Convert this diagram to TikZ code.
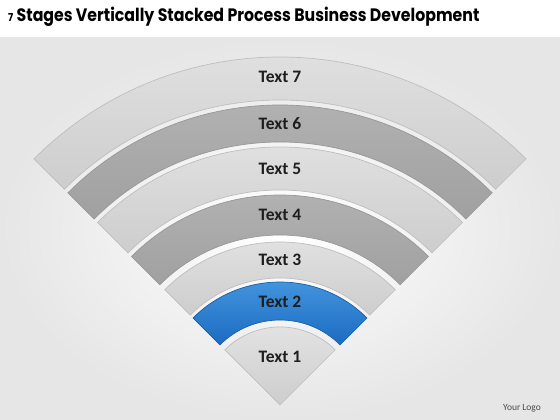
\documentclass[tikz,border=0pt]{standalone}
\usepackage{fontspec}
\setmainfont{Carlito}
\newfontfamily\titlefont[FakeStretch=0.875]{Poppins}
\usetikzlibrary{calc}

\definecolor{bggray}{HTML}{E6E6E6}
\definecolor{lighttop}{HTML}{E4E4E4}
\definecolor{lightbot}{HTML}{CDCDCD}
\definecolor{lightedge}{HTML}{BEBEBE}
\definecolor{darktop}{HTML}{B5B5B5}
\definecolor{darkbot}{HTML}{A0A0A0}
\definecolor{darkedge}{HTML}{979797}
\definecolor{bluetop}{HTML}{4A9BE2}
\definecolor{bluebot}{HTML}{1B6BC2}
\definecolor{blueedge}{HTML}{1A5EA8}
\definecolor{labeltext}{HTML}{1E1E1E}

\tikzset{
  lightband/.style={draw=lightedge, line width=0.7pt, top color=lighttop, bottom color=lightbot},
  darkband/.style={draw=darkedge, line width=0.7pt, top color=darktop, bottom color=darkbot},
  blueband/.style={draw=blueedge, line width=0.7pt, top color=bluetop, bottom color=bluebot},
  bandlabel/.style={font=\bfseries\fontsize{17.5}{19}\selectfont, text=labeltext},
}

\begin{document}
\begin{tikzpicture}[x=1pt, y=1pt]
  \useasboundingbox (0,0) rectangle (560,420);
  \fill[white] (0,0) rectangle (560,420);
  \shade[inner color=white, outer color=bggray] (0,0) rectangle (560,382);

  \node[anchor=base west, inner sep=0pt] (title) at (8,398)
    {\titlefont\bfseries\fontsize{18}{20}\selectfont{\fontsize{11}{12}\selectfont 7} Stages Vertically Stacked Process Business Development};

  \coordinate (apex) at (280,15);
  \foreach \rin/\rout/\st in {305/348/lightband, 263/300/darkband, 215/258/lightband,
      170/210/darkband, 127/163/lightband, 85/123/blueband} {
    \draw[style=\st] ($(apex)+(45:\rout pt)$) arc[start angle=45, end angle=135, radius=\rout pt]
      -- ($(apex)+(135:\rin pt)$) arc[start angle=135, end angle=45, radius=\rin pt] -- cycle;
  }
  \draw[lightband] (apex) -- ($(apex)+(45:78pt)$) arc[start angle=45, end angle=135, radius=78pt] -- cycle;

  \node[bandlabel] (t7) at (280,343) {Text 7};
  \node[bandlabel] (t6) at (280,296) {Text 6};
  \node[bandlabel] (t5) at (280,251) {Text 5};
  \node[bandlabel] (t4) at (280,205) {Text 4};
  \node[bandlabel] (t3) at (280,160) {Text 3};
  \node[bandlabel] (t2) at (280,118) {Text 2};
  \node[bandlabel] (t1) at (280,63) {Text 1};

  \node[font=\fontsize{9.5}{11}\selectfont, text=labeltext!80] (logo) at (522,12) {Your Logo};
\end{tikzpicture}
\end{document}
